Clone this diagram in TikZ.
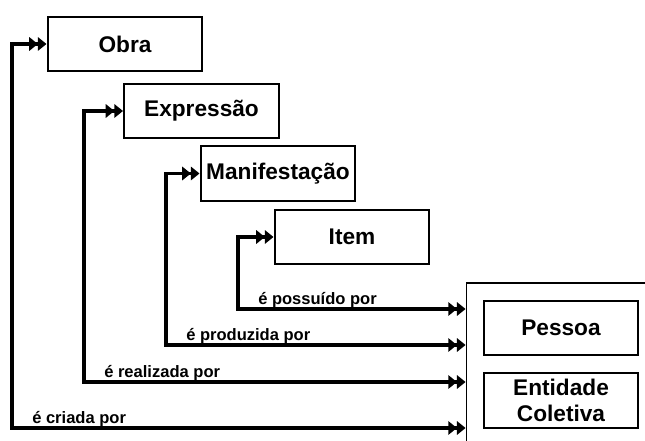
\documentclass[tikz,border=0pt]{standalone}
\usepackage{fontspec}
\setmainfont{Liberation Sans}
\usetikzlibrary{arrows.meta, positioning}

\begin{document}
\begin{tikzpicture}[x=0.75pt, y=-0.75pt,
        classe/.style={draw, line width=1.7pt, minimum width=116pt, minimum height=41pt,
            inner sep=2pt, align=center, font=\fontsize{17}{19}\selectfont\bfseries},
        rel/.style={line width=2.5pt,
            {Triangle[length=6.5pt,width=10pt]Triangle[length=6.5pt,width=10pt]}-{Triangle[length=6.5pt,width=10pt]Triangle[length=6.5pt,width=10pt]}},
        lbl/.style={anchor=base west, inner sep=0pt, font=\fontsize{12.4}{14}\selectfont\bfseries}]
        \path[use as bounding box, clip] (0,0) rectangle (645,441);

        \node[classe] (obra) at (125,44) {Obra};
        \node[classe] (expressao) at (201.5,111) {Expressão};
        \node[classe] (manifestacao) at (278,173.5) {Manifestação};
        \node[classe] (item) at (352,237) {Item};

        \node[draw, line width=1.1pt, minimum width=160pt, minimum height=140pt,
            inner sep=0pt] (agente) at (573,376.5) {};
        \node[classe] (pessoa) at (561,328) {Pessoa};
        \node[classe] (coletiva) at (561,400.5) {Entidade\\Coletiva};

        \foreach \n/\x/\y/\t in {obra/12/428/{é criada por},
                expressao/84/382/{é realizada por},
                manifestacao/166/345/{é produzida por},
                item/238/309/{é possuído por}}
        {
            \coordinate (k\n) at (\x,\y);
            \draw[rel] (\n.west) -| (k\n) -- (k\n -| agente.west);
            \node[lbl] (l\n) at ([shift={(20,-5)}]k\n) {\t};
        }
    \end{tikzpicture}
\end{document}
